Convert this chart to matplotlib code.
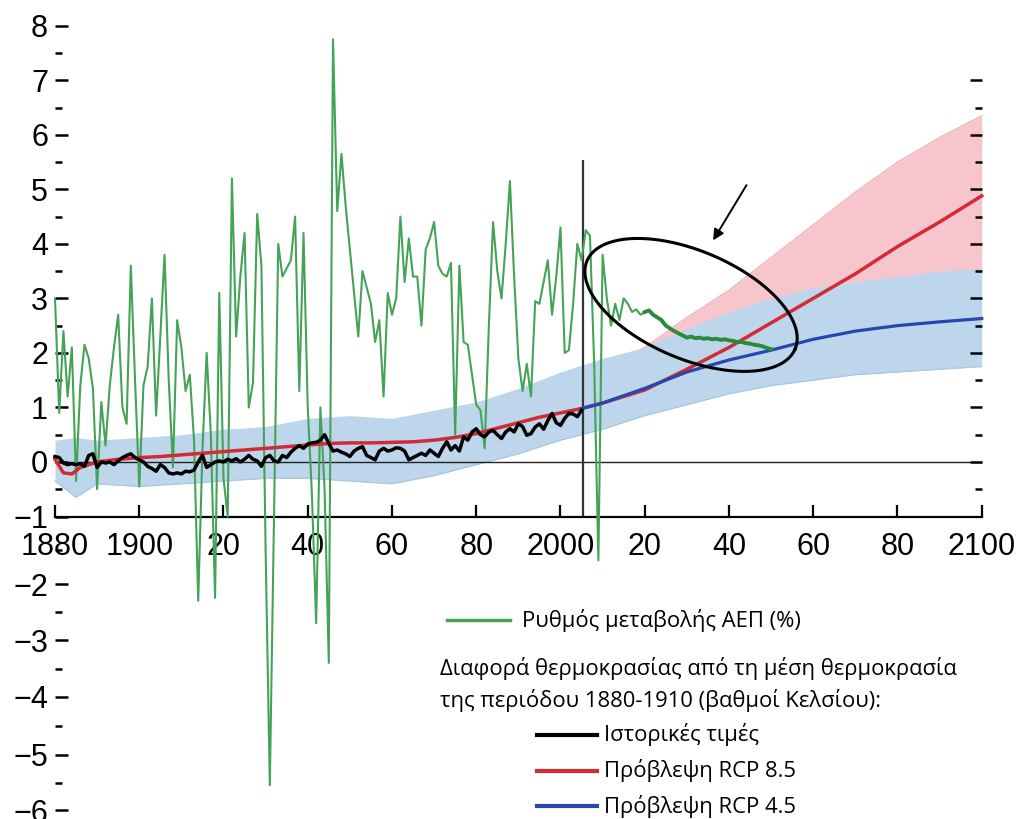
import numpy as np
import matplotlib
matplotlib.use('Agg')
import matplotlib.pyplot as plt
from matplotlib.lines import Line2D

# ---- datos ----
gdp_years = np.arange(1880, 2021)
gdp_growth = [3.0, 0.9, 2.4, 1.2, 2.1, -0.35, 1.4, 2.15, 1.9, 1.35,
              -0.5, 1.1, 0.3, 1.4, 2.1, 2.7, 1.0, 0.7, 3.6, 1.5,
              -0.45, 1.4, 1.75, 3.0, 0.85, 2.3, 3.8, 1.5, -0.1, 2.6,
              2.1, 1.3, 1.6, 0.4, -2.3, 0.2, 2.0, 0.5, -2.25, 3.1,
              -0.3, -1.0, 5.2, 2.3, 3.4, 4.2, 1.0, 1.45, 4.55, 3.6,
              -1.5, -5.55, -1.0, 4.0, 3.4, 3.55, 3.7, 4.5, 1.3, 4.2,
              1.0, -0.6, -2.7, 1.0, -0.5, -3.4, 7.75, 4.6, 5.65, 4.7,
              3.9, 3.1, 2.3, 3.5, 3.2, 2.9, 2.2, 2.6, 1.2, 3.1,
              2.7, 3.0, 4.5, 3.3, 4.1, 3.4, 3.4, 2.5, 3.9, 4.1,
              4.4, 3.6, 3.45, 3.4, 3.65, 0.5, 3.6, 2.2, 2.15, 1.6,
              1.05, 0.95, 0.25, 2.5, 4.4, 3.5, 3.0, 4.0, 5.15, 3.4,
              1.9, 1.3, 1.8, 1.2, 2.95, 2.9, 3.3, 3.7, 2.7, 3.4,
              4.3, 2.0, 2.05, 2.9, 4.0, 3.7, 4.25, 4.15, 1.8, -1.65,
              3.8, 3.0, 2.5, 2.9, 2.6, 3.0, 2.9, 2.75, 2.8, 2.7, 2.75]

gdp_proj_years = np.arange(2020, 2051)
gdp_proj = [2.75, 2.78, 2.7, 2.65, 2.6, 2.5, 2.45, 2.4, 2.36, 2.32,
            2.28, 2.3, 2.27, 2.28, 2.26, 2.27, 2.25, 2.26, 2.24, 2.25,
            2.23, 2.22, 2.2, 2.2, 2.18, 2.17, 2.15, 2.14, 2.12, 2.09, 2.07]

hist_years = np.arange(1880, 2006)
hist_temp = [0.10, 0.08, -0.02, -0.05, -0.03, -0.05, -0.03, -0.08, 0.12, 0.15,
             -0.10, 0.0, -0.02, 0.0, -0.05, 0.02, 0.08, 0.12, 0.15, 0.08,
             0.04, 0.0, -0.08, -0.12, -0.17, -0.05, -0.1, -0.2, -0.22, -0.2,
             -0.22, -0.17, -0.18, -0.15, 0.0, 0.12, -0.1, -0.05, 0.0, 0.02,
             0.0, 0.05, 0.02, 0.06, 0.0, 0.05, 0.12, 0.05, 0.02, -0.08,
             0.08, 0.12, 0.02, 0.0, 0.12, 0.08, 0.18, 0.25, 0.3, 0.25,
             0.33, 0.35, 0.36, 0.4, 0.5, 0.34, 0.2, 0.22, 0.18, 0.15,
             0.1, 0.2, 0.25, 0.28, 0.12, 0.08, 0.04, 0.2, 0.25, 0.2,
             0.22, 0.26, 0.25, 0.2, 0.04, 0.08, 0.12, 0.16, 0.12, 0.22,
             0.16, 0.1, 0.25, 0.37, 0.22, 0.3, 0.2, 0.46, 0.4, 0.55,
             0.61, 0.5, 0.46, 0.55, 0.58, 0.5, 0.43, 0.55, 0.61, 0.55,
             0.7, 0.65, 0.49, 0.52, 0.64, 0.7, 0.6, 0.76, 0.89, 0.72,
             0.67, 0.8, 0.89, 0.88, 0.83, 0.95]

rcp85_years = [1880, 1882, 1884, 1886, 1888, 1890, 1895, 1900, 1905, 1910,
               1915, 1920, 1925, 1930, 1935, 1940, 1945, 1950, 1955, 1960,
               1965, 1970, 1975, 1980, 1985, 1990, 1995, 2000, 2005, 2010,
               2020, 2030, 2040, 2050, 2060, 2070, 2080, 2090, 2100]
rcp85 = [0.05, -0.2, -0.22, -0.1, -0.05, 0.0, 0.05, 0.08, 0.1, 0.13,
         0.16, 0.19, 0.22, 0.25, 0.28, 0.31, 0.34, 0.35, 0.35, 0.36,
         0.37, 0.4, 0.45, 0.52, 0.62, 0.72, 0.82, 0.9, 0.98, 1.08,
         1.32, 1.7, 2.1, 2.55, 3.0, 3.45, 3.95, 4.4, 4.88]

rcp45_years = [2005, 2010, 2020, 2030, 2040, 2050, 2060, 2070, 2080, 2090, 2100]
rcp45 = [0.98, 1.08, 1.35, 1.65, 1.87, 2.05, 2.25, 2.4, 2.5, 2.57, 2.63]

# envolventes de las simulaciones
band45_years = [1880, 1885, 1890, 1900, 1910, 1920, 1930, 1940, 1950, 1960, 1970, 1980,
                1990, 2000, 2010, 2020, 2030, 2040, 2050, 2060, 2070, 2080, 2090, 2100]
band45_low = [-0.35, -0.65, -0.4, -0.45, -0.4, -0.35, -0.3, -0.3, -0.35, -0.4, -0.25, -0.05,
              0.15, 0.4, 0.6, 0.85, 1.05, 1.25, 1.4, 1.5, 1.6, 1.65, 1.7, 1.75]
band45_high = [0.4, 0.45, 0.4, 0.45, 0.5, 0.6, 0.65, 0.8, 0.85, 0.8, 0.95, 1.1,
               1.35, 1.65, 1.9, 2.1, 2.45, 2.75, 3.0, 3.2, 3.3, 3.4, 3.5, 3.55]

band85_years = [2005, 2020, 2030, 2040, 2050, 2060, 2070, 2080, 2090, 2100]
band85_low = [0.55, 0.95, 1.25, 1.55, 1.9, 2.3, 2.6, 2.9, 3.2, 3.5]
band85_high = [1.5, 2.1, 2.65, 3.15, 3.75, 4.35, 4.95, 5.5, 5.95, 6.35]

xtick_years = [1880, 1900, 1920, 1940, 1960, 1980, 2000, 2020, 2040, 2060, 2080, 2100]
xtick_labels = ['1880', '1900', '20', '40', '60', '80', '2000', '20', '40', '60', '80', '2100']

# colores
verde = '#45a358'
verde_osc = '#2c8a3b'
rojo = '#d42a35'
azul = '#2647ad'
azul_claro = '#bdd6ec'
rosa = '#f7c6cc'

plt.rcParams['font.family'] = ['Liberation Sans Narrow', 'Liberation Sans', 'DejaVu Sans']
fuente_leyenda = ['Open Sans', 'DejaVu Sans']

W, H = 1018, 819
fig = plt.figure(figsize=(W / 100, H / 100), dpi=100)
ax = fig.add_axes([0, 0, 1, 1])

# escala vertical por tramos (el eje negativo esta algo estirado)
niv = [-7, -6, -5, -4, -3, -2, -1, 9]
pos = [-863, -810, -755, -697, -640, -584, -516.5, 28.8]
def fwd(v):
    return np.interp(v, niv, pos)
def inv(p):
    return np.interp(p, pos, niv)

ax.set_yscale('function', functions=(fwd, inv))
ylim = (float(inv(-819)), float(inv(0)))
ax.set_ylim(*ylim)
ax.set_xlim(1880 - 55 / 4.2123, 2100 + 36.3 / 4.2123)

# bandas de las simulaciones
ax.fill_between(band85_years, band85_low, band85_high, color=rosa, lw=0, zorder=1)
ax.plot(band85_years, band85_high, color='#f0a9b2', lw=0.8, zorder=1.2)
ax.fill_between(band45_years, band45_low, band45_high, color=azul_claro, lw=0, zorder=1.5)
ax.plot(band45_years, band45_low, color='#a9c4e0', lw=0.8, zorder=1.6)

ax.hlines(0, 1880, 2100, color='#222222', lw=1.0, zorder=2)
ax.vlines(2005.3, -1, 5.54, color='#333333', lw=1.6, zorder=2)

ax.plot(gdp_years, gdp_growth, color=verde, lw=1.5, zorder=3)
ax.plot(rcp85_years, rcp85, color=rojo, lw=2.5, zorder=4)
ax.plot(rcp45_years, rcp45, color=azul, lw=2.3, zorder=4)
ax.plot(hist_years, hist_temp, color='black', lw=2.5, zorder=5)
ax.plot(gdp_proj_years, gdp_proj, color=verde_osc, lw=2.8, zorder=5)

# ejes
for s in ['top', 'right', 'left']:
    ax.spines[s].set_visible(False)
ax.spines['left'].set_position(('data', 1880))
ax.spines['bottom'].set_position(('data', -1))
ax.spines['bottom'].set_bounds(1880, 2100)
ax.spines['bottom'].set_linewidth(1.6)

ax.set_xticks(xtick_years)
ax.set_xticklabels(xtick_labels)
ax.tick_params(axis='x', direction='in', length=9, width=1.6, pad=11, labelsize=22)

ax.set_yticks(range(-6, 9))
ax.set_yticklabels([str(v) if v >= 0 else '\u2212' + str(-v) for v in range(-6, 9)])
ax.set_yticks(np.arange(-5.5, 8, 1.0), minor=True)
ax.tick_params(axis='y', which='major', direction='in', length=9, width=1.8, pad=5, labelsize=22)
ax.tick_params(axis='y', which='minor', direction='in', length=5, width=1.8)

# marcas de la derecha
ax2 = ax.twinx()
ax2.set_yscale('function', functions=(fwd, inv))
ax2.set_ylim(*ylim)
for s in ['top', 'right', 'left', 'bottom']:
    ax2.spines[s].set_visible(False)
ax2.spines['right'].set_position(('data', 2100))
ax2.set_yticks(range(0, 8))
ax2.set_yticks(np.arange(-0.5, 7, 1.0), minor=True)
ax2.set_yticklabels([])
ax2.tick_params(axis='y', which='major', direction='in', length=9, width=1.8)
ax2.tick_params(axis='y', which='minor', direction='in', length=5, width=1.8)

# elipse y flecha
centro = ax.transData.transform((2031.0, 2.88))
t = np.linspace(0, 2 * np.pi, 300)
ang = np.deg2rad(-23)
a, b = 113, 54
ex, ey = a * np.cos(t), b * np.sin(t)
px = centro[0] + ex * np.cos(ang) - ey * np.sin(ang)
py = centro[1] + ex * np.sin(ang) + ey * np.cos(ang)
elipse = ax.transData.inverted().transform(np.column_stack([px, py]))
ax.plot(elipse[:, 0], elipse[:, 1], color='black', lw=2.2, zorder=6)

ax.annotate('', xy=(2035.9, 4.02), xytext=(2044.5, 5.12),
            arrowprops=dict(arrowstyle='-|>', color='black', lw=1.4, mutation_scale=16),
            zorder=6)

# leyenda
def fx(p):
    return p / W
def fy(p):
    return 1 - p / H

fs = 15.8
fig.add_artist(Line2D([fx(447), fx(510)], [fy(620), fy(620)], color=verde, lw=2.5))
fig.text(fx(522), fy(620), 'Ρυθμός μεταβολής ΑΕΠ (%)', fontsize=fs,
         family=fuente_leyenda, va='center', ha='left')
fig.text(fx(440), fy(668), 'Διαφορά θερμοκρασίας από τη μέση θερμοκρασία', fontsize=fs,
         family=fuente_leyenda, va='center', ha='left')
fig.text(fx(440), fy(700), 'της περιόδου 1880-1910 (βαθμοί Κελσίου):', fontsize=fs,
         family=fuente_leyenda, va='center', ha='left')
for yy, col, txt in [(735, 'black', 'Ιστορικές τιμές'),
                     (771, rojo, 'Πρόβλεψη RCP 8.5'),
                     (806, azul, 'Πρόβλεψη RCP 4.5')]:
    fig.add_artist(Line2D([fx(537), fx(597)], [fy(yy), fy(yy)], color=col, lw=3))
    fig.text(fx(604), fy(yy), txt, fontsize=fs, family=fuente_leyenda, va='center', ha='left')

fig.savefig('out.png', dpi=100)
